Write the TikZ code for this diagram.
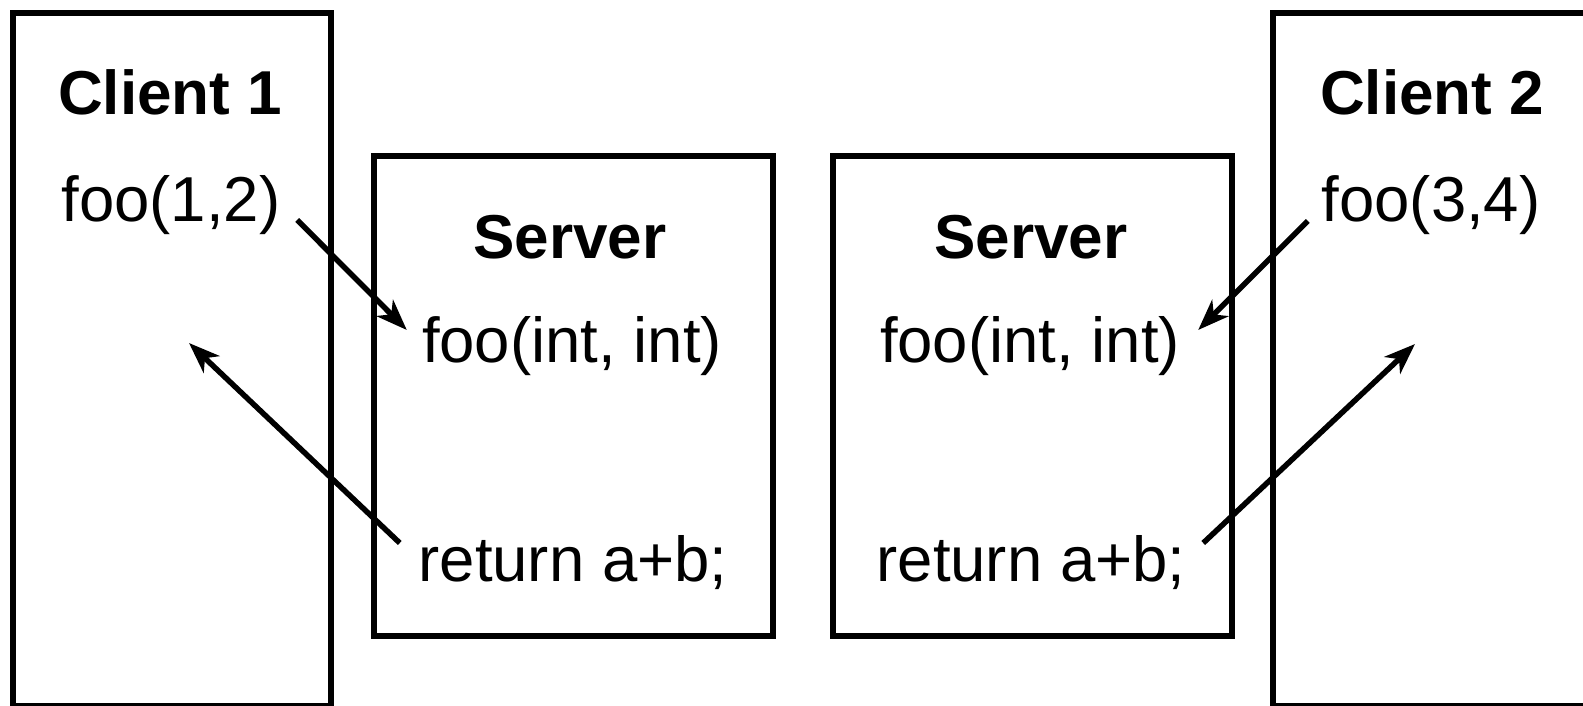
\documentclass[tikz,border=0pt]{standalone}
\usepackage{fontspec}
\setmainfont{Liberation Sans}
\usetikzlibrary{arrows.meta,calc}

\tikzset{
  frame/.style={draw=black, line width=6pt, rectangle, inner sep=0pt, fill=none},
  clientbox/.style={frame, minimum width=318pt, minimum height=693pt},
  serverbox/.style={frame, minimum width=399pt, minimum height=480pt},
  title/.style={anchor=base, inner sep=0pt, font=\fontsize{62}{74}\selectfont\bfseries},
  code/.style={anchor=base, inner sep=0pt, font=\fontsize{63.5}{76}\selectfont},
  call/.style={draw=black, line width=5.5pt,
    -{Stealth[length=31pt, width=23pt, inset=9pt]}}
}

\begin{document}
\begin{tikzpicture}[x=1pt, y=-1pt]
  \useasboundingbox (0,0) rectangle (1583,706);

  % process frames
  \node[clientbox] (client1) at (172,359.5) {};
  \node[clientbox] (client2) at (1432,359.5) {};
  \node[serverbox] (server1) at (573.5,396) {};
  \node[serverbox] (server2) at (1032,396) {};

  % client side
  \node[title] (c1title) at (170,115) {Client 1};
  \node[code]  (c1call)  at (171,222) {foo(1,2)};
  \node[title] (c2title) at (1432,115) {Client 2};
  \node[code]  (c2call)  at (1431,222) {foo(3,4)};

  % server side
  \node[title] (s1title) at (570,258) {Server};
  \node[code]  (s1sig)   at (572,362) {foo(int, int)};
  \node[code]  (s1ret)   at (573,581) {return a+b;};
  \node[title] (s2title) at (1031,258) {Server};
  \node[code]  (s2sig)   at (1030,362) {foo(int, int)};
  \node[code]  (s2ret)   at (1031,581) {return a+b;};

  % end points of the calls and returns
  \coordinate (r1back) at (189,343);
  \coordinate (r2back) at (1415,344);

  \draw[call] ($(c1call.base east)+(16.6,-2)$) -- ($(s1sig.base west)+(-15,-32)$);
  \draw[call] ($(s1ret.base west)+(-18.6,-38)$) -- (r1back);
  \draw[call] ($(c2call.base west)+(-13.6,-1)$) -- ($(s2sig.base east)+(18,-32)$);
  \draw[call] ($(s2ret.base east)+(17.6,-38)$) -- (r2back);
\end{tikzpicture}
\end{document}
